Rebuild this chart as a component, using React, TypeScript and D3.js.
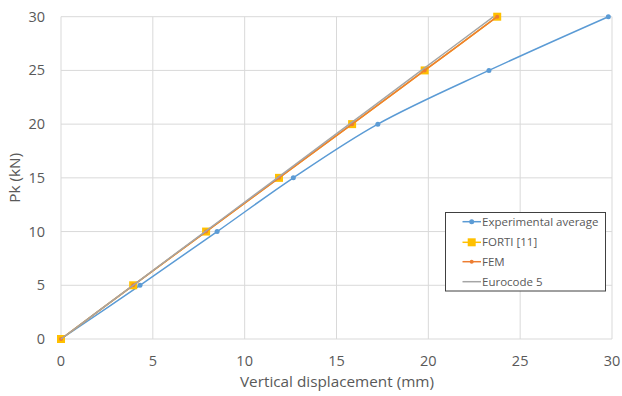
import React from "react";
import * as d3 from "d3";

const loads = [0, 5, 10, 15, 20, 25, 30];
const experimental = [0, 4.3, 8.5, 12.65, 17.25, 23.3, 29.8];
const forti = [0, 3.93, 7.9, 11.87, 15.85, 19.8, 23.75];
const fem = [0, 3.93, 7.9, 11.87, 15.85, 19.8, 23.75];
const eurocode = [0, 3.92, 7.85, 11.78, 15.7, 19.62, 23.55];
const xTicks = [0, 5, 10, 15, 20, 25, 30];
const yTicks = [0, 5, 10, 15, 20, 25, 30];
const seriesNames = ["Experimental average", "FORTI [11]", "FEM", "Eurocode 5"];

const W = 622, H = 396;
const FONT = "'Open Sans', 'Liberation Sans', sans-serif";

export default function App() {
  const x = d3.scaleLinear().domain([0, 30]).range([61, 612]);
  const y = d3.scaleLinear().domain([0, 30]).range([339, 16.7]);
  const line = d3.line<[number, number]>().x(d => x(d[0])).y(d => y(d[1])).curve(d3.curveCatmullRom.alpha(0.5));
  const pts = (xs: number[]) => xs.map((v, i) => [v, loads[i]] as [number, number]);

  const blue = "#5B9BD5", orange = "#ED7D31", gold = "#FFC000", grey = "#A5A5A5";
  const legendY = [221.7, 242.3, 261.7, 281.7];

  return (
    <svg width={W} height={H} style={{ position: "absolute", left: 0, top: 0, background: "#fff" }}>
      {xTicks.map(t => (
        <line key={"gx" + t} x1={x(t)} x2={x(t)} y1={y(30)} y2={y(0)} stroke="#d9d9d9" strokeWidth={1} />
      ))}
      {yTicks.map(t => (
        <line key={"gy" + t} x1={x(0)} x2={x(30)} y1={y(t)} y2={y(t)} stroke="#d9d9d9" strokeWidth={1} />
      ))}
      {xTicks.map(t => (
        <text key={"tx" + t} x={x(t)} y={365.5} textAnchor="middle" fontSize={14.5} fill="#595959" fontFamily={FONT}>{t}</text>
      ))}
      {yTicks.map(t => (
        <text key={"ty" + t} x={45} y={y(t) + 5} textAnchor="end" fontSize={14.5} fill="#595959" fontFamily={FONT}>{t}</text>
      ))}
      <text x={337} y={387} textAnchor="middle" fontSize={15.3} fill="#595959" fontFamily={FONT}>Vertical displacement (mm)</text>
      <text transform={`translate(20,${y(15)}) rotate(-90)`} textAnchor="middle" fontSize={15.3} fill="#595959" fontFamily={FONT}>Pk (kN)</text>

      <path d={line(pts(experimental)) || ""} fill="none" stroke={blue} strokeWidth={1.5} />
      {pts(experimental).map((p, i) => (
        <circle key={"e" + i} cx={x(p[0])} cy={y(p[1])} r={2.5} fill={blue} />
      ))}
      <path d={line(pts(forti)) || ""} fill="none" stroke={gold} strokeWidth={1.5} />
      {pts(forti).map((p, i) => (
        <rect key={"f" + i} x={x(p[0]) - 4} y={y(p[1]) - 4} width={8} height={8} fill={gold} />
      ))}
      <path d={line(pts(fem)) || ""} fill="none" stroke={orange} strokeWidth={1.5} />
      {pts(fem).map((p, i) => (
        <circle key={"m" + i} cx={x(p[0])} cy={y(p[1])} r={2} fill={orange} />
      ))}
      <path d={line(pts(eurocode)) || ""} fill="none" stroke={grey} strokeWidth={1.5} />

      <rect x={445.5} y={212.5} width={160} height={78.5} fill="#fff" stroke="#404040" strokeWidth={1} />
      {seriesNames.map((n, i) => {
        const ly = legendY[i];
        const c = [blue, gold, orange, grey][i];
        return (
          <g key={n}>
            <line x1={462.5} x2={481} y1={ly} y2={ly} stroke={c} strokeWidth={1.5} />
            {i === 0 && <circle cx={471.7} cy={ly} r={2.5} fill={blue} />}
            {i === 1 && <rect x={467.7} y={ly - 4} width={8} height={8} fill={gold} />}
            {i === 2 && <circle cx={471.7} cy={ly} r={2} fill={orange} />}
            <text x={482} y={ly + 4} fontSize={11.5} fill="#595959" fontFamily={FONT}>{n}</text>
          </g>
        );
      })}
    </svg>
  );
}
